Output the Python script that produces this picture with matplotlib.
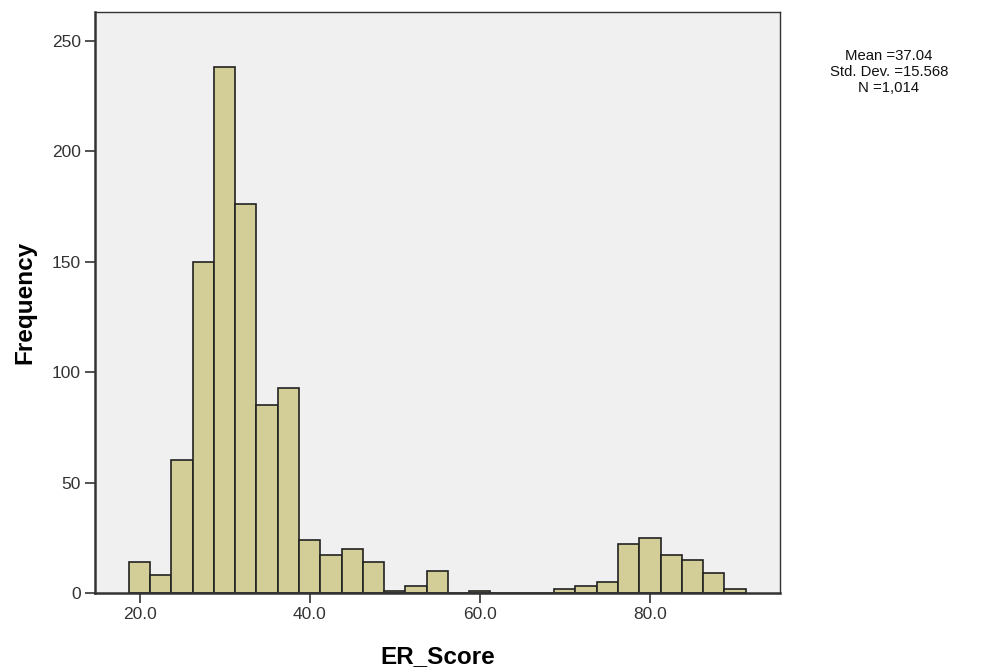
import numpy as np
import matplotlib
matplotlib.use('agg')
import matplotlib.pyplot as plt

# histogram bins (width 2.5) and counts
bin_start = 18.75
bin_width = 2.5
counts = [14, 8, 60, 150, 238, 176, 85, 93, 24, 17, 20, 14, 1, 3, 10, 0,
          1, 0, 0, 0, 2, 3, 5, 22, 25, 17, 15, 9, 2]
xticks = [20.0, 40.0, 60.0, 80.0]
yticks = [0, 50, 100, 150, 200, 250]
stats_text = 'Mean =37.04\nStd. Dev. =15.568\nN =1,014'

plt.rcParams['font.family'] = ['Liberation Sans', 'DejaVu Sans']

edges = bin_start + bin_width*np.arange(len(counts)+1)
fig = plt.figure(figsize=[9.83, 6.72], dpi=100)
ax = fig.add_axes([0.0966, 0.1176, 0.6969, 0.8645])
ax.set_facecolor('#f0f0f0')

ax.bar(edges[:-1], counts, width=bin_width, align='edge',
       color='#d3ce97', edgecolor='#222222', linewidth=1.2)

ax.set_xlim(14.76, 95.3)
ax.set_ylim(0, 263.1)
ax.set_xticks(xticks)
ax.set_xticklabels(['%.1f' % t for t in xticks])
ax.set_yticks(yticks)
ax.tick_params(direction='out', length=7, width=1.2, labelsize=12.5,
               labelcolor='#333333', color='#333333', pad=3)
for s in ['left', 'bottom']:
    ax.spines[s].set_linewidth(1.8)
    ax.spines[s].set_color('#333333')
for s in ['top', 'right']:
    ax.spines[s].set_linewidth(1.0)
    ax.spines[s].set_color('#333333')

ax.set_xlabel('ER_Score', fontsize=17.5, fontweight='bold')
ax.set_ylabel('Frequency', fontsize=17.5, fontweight='bold')
ax.xaxis.set_label_coords(0.5, -0.09)
ax.yaxis.set_label_coords(-0.085, 0.5)

fig.text(889/983, 1-72/672, stats_text, ha='center', va='center',
         fontsize=10.7, linespacing=1.15, color='#111111')

plt.savefig('out.png', dpi=100)
